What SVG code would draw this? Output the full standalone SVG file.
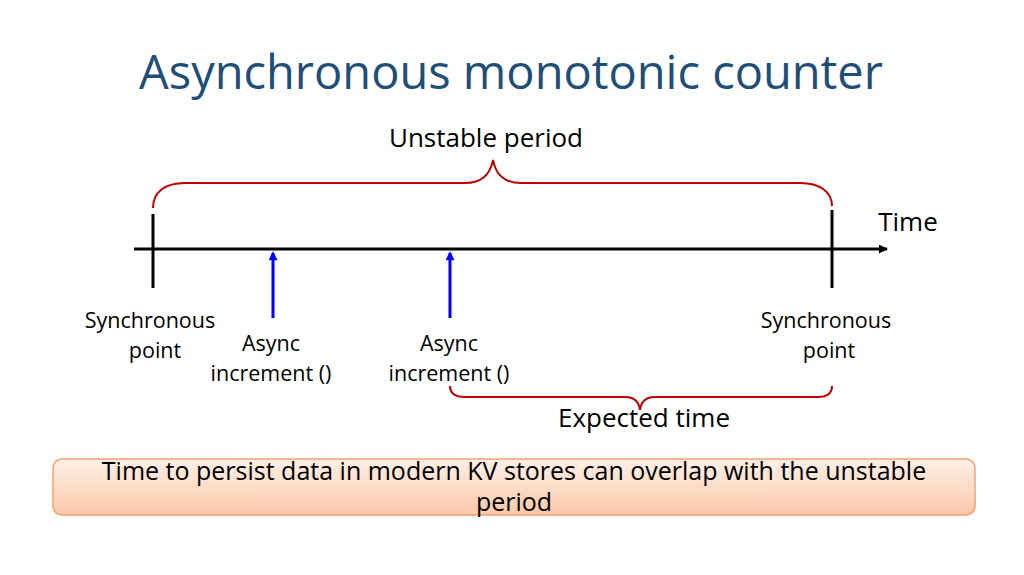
<svg xmlns="http://www.w3.org/2000/svg" width="1024" height="575" viewBox="0 0 1024 575">
<style>
text{font-family:"Open Sans","Noto Sans",sans-serif;fill:#000}
.lbl{font-size:21.5px;text-anchor:middle}
.brace{fill:none;stroke:#c00000;stroke-width:2}
.blue{stroke:#0000ff;stroke-width:3}
</style>
<defs>
<marker id="ab" viewBox="0 0 10 10" refX="8" refY="5" markerWidth="3.5" markerHeight="3" orient="auto"><path d="M0,0 L10,5 L0,10 Z" fill="#0000ff"/></marker>
<marker id="ak" viewBox="0 0 10 10" refX="9" refY="5" markerWidth="3" markerHeight="3" orient="auto"><path d="M0,0 L10,5 L0,10 Z" fill="#000"/></marker>
<linearGradient id="g" x1="0" y1="0" x2="0" y2="1"><stop offset="0" stop-color="#fef0e8"/><stop offset="1" stop-color="#fbc8a8"/></linearGradient>
</defs>
<rect width="1024" height="575" fill="#fff"/>
<text x="511" y="89" font-size="47" text-anchor="middle" style="fill:#1f4e79">Asynchronous monotonic counter</text>
<g id="connectors">
<line x1="134" y1="249" x2="887" y2="249" stroke="#000" stroke-width="3" marker-end="url(#ak)"/>
<line x1="153" y1="214" x2="153" y2="288" stroke="#000" stroke-width="3"/>
<line x1="832" y1="210" x2="832" y2="288" stroke="#000" stroke-width="3"/>
<line x1="273" y1="318" x2="273" y2="253" class="blue" marker-end="url(#ab)"/>
<line x1="450" y1="318" x2="450" y2="253" class="blue" marker-end="url(#ab)"/>
<path class="brace" d="M153,208 C153,192 165,183 185,183 L465,183 C482,183 490,175 493,160 C496,175 504,183 521,183 L800,183 C820,183 832,192 832,206"/>
<path class="brace" d="M450,386 C450,393 455,397 465,397 L625,397 C635,397 639,402 640,410 C641,402 645,397 655,397 L818,397 C828,397 832,393 832,386"/>
</g>
<g id="labels">
<text x="486" y="147" font-size="26" text-anchor="middle">Unstable period</text>
<text x="908" y="231" font-size="26" text-anchor="middle">Time</text>
<text class="lbl" x="150" y="328">Synchronous</text>
<text class="lbl" x="155" y="358">point</text>
<text class="lbl" x="271" y="351">Async</text>
<text class="lbl" x="271" y="381">increment ()</text>
<text class="lbl" x="449" y="351">Async</text>
<text class="lbl" x="449" y="381">increment ()</text>
<text class="lbl" x="826" y="328">Synchronous</text>
<text class="lbl" x="829" y="358">point</text>
<text x="644" y="427" font-size="26" text-anchor="middle">Expected time</text>
</g>
<g id="note">
<rect x="53" y="459" width="922" height="56" rx="9" fill="url(#g)" stroke="#f4a070" stroke-width="1.5"/>
<text x="514" y="480" font-size="25" text-anchor="middle">Time to persist data in modern KV stores can overlap with the unstable</text>
<text x="514" y="511" font-size="25" text-anchor="middle">period</text>
</g>
</svg>
